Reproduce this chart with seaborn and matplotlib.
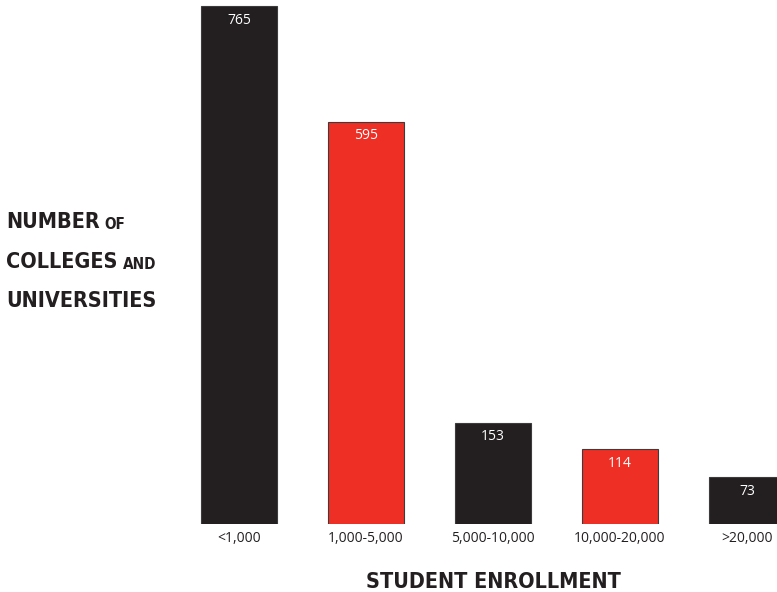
import matplotlib
matplotlib.use("Agg")
import matplotlib.pyplot as plt
from matplotlib import font_manager
import seaborn as sns
import pandas as pd

# Enrollment size bands and number of institutions in each
categories = ["<1,000", "1,000-5,000", "5,000-10,000", "10,000-20,000", ">20,000"]
counts = [765, 595, 153, 114, 73]
bar_colors = ["#231f20", "#ee2f25", "#231f20", "#ee2f25", "#231f20"]

sns.set_theme(style="white")
plt.rcParams["font.family"] = ["Open Sans", "DejaVu Sans"]


def pick_heading_font():
    """Prefer a narrow/condensed bold sans for the headings."""
    for f in font_manager.fontManager.ttflist:
        w = f.weight if isinstance(f.weight, int) else 700 if "bold" in str(f.weight) else 400
        name = f.name
        is_narrow = ("condensed" in str(f.stretch) or "Narrow" in name
                     or "Condensed" in name)
        if is_narrow and w >= 600 and "Mono" not in name and "Serif" not in name:
            return name, f.stretch
    return "Roboto", "normal"


head_family, head_stretch = pick_heading_font()
head_font = dict(family=[head_family, "DejaVu Sans"], weight="bold",
                 stretch=head_stretch, color="#231f20")

df = pd.DataFrame({"band": categories, "count": counts})

fig = plt.figure(figsize=(7.77, 5.92), dpi=100)
ax = fig.add_axes([175.5 / 777, 68 / 592, 1 - 175.5 / 777, 524 / 592])

sns.barplot(data=df, x="band", y="count", hue="band", palette=bar_colors,
            saturation=1, legend=False, width=0.6, edgecolor="#3c3c3c",
            linewidth=0.8, ax=ax)

ax.set_xlim(-0.5, 4.236)
ax.set_ylim(4.4, 774)
for s in ax.spines.values():
    s.set_visible(False)
ax.set_yticks([])
ax.set_xlabel("")
ax.set_ylabel("")
ax.tick_params(axis="x", length=0, pad=5, labelsize=10, labelcolor="#231f20")

# value labels just inside the top of each bar
for i, v in enumerate(counts):
    ax.annotate(str(v), xy=(i, v), xytext=(0, -14), textcoords="offset pixels",
                ha="center", va="center", color="white", fontsize=10)


def heading_line(y, big, small=None):
    t = fig.text(6 / 777, y, big, fontsize=15.5, va="baseline", ha="left", **head_font)
    if small:
        ax.annotate(small, xy=(1, 0), xycoords=t, xytext=(5, 0),
                    textcoords="offset pixels", ha="left", va="bottom",
                    fontsize=11, annotation_clip=False, **head_font)
    return t


heading_line(1 - 228 / 592, "NUMBER", "OF")
heading_line(1 - 268 / 592, "COLLEGES", "AND")
heading_line(1 - 307 / 592, "UNIVERSITIES")

fig.text(493 / 777, 1 - 588 / 592, "STUDENT ENROLLMENT", fontsize=15.5,
         ha="center", va="baseline", **head_font)

fig.savefig("out.png", dpi=100)
